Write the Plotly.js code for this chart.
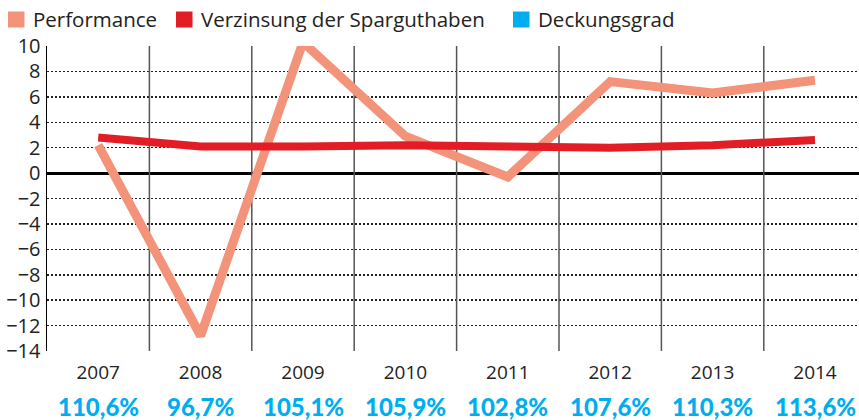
<!DOCTYPE html>
<html>
<head>
<meta charset="utf-8">
<script src="https://cdn.plot.ly/plotly-3.0.1.min.js"></script>
<style>html,body{margin:0;padding:0;background:#fff;}#chart{width:859px;height:420px;}</style>
</head>
<body>
<div id="chart"></div>
<script>
var years = ["2007","2008","2009","2010","2011","2012","2013","2014"];
var performance = [2.2, -12.8, 10.3, 2.9, -0.3, 7.2, 6.3, 7.3];
var verzinsung = [2.8, 2.1, 2.1, 2.2, 2.1, 2.0, 2.2, 2.6];
var deckungsgrad = ["110,6%","96,7%","105,1%","105,9%","102,8%","107,6%","110,3%","113,6%"];
var yTicks = [-14,-12,-10,-8,-6,-4,-2,0,2,4,6,8,10];
var legendNames = ["Performance", "Verzinsung der Sparguthaben", "Deckungsgrad"];

var idx = years.map(function(_, i){ return i; });
var cPerf = "#F3937A", cVerz = "#E31D25", cDeck = "#00AEEF";
var legendColors = [cPerf, cVerz, cDeck];

var W = 859, H = 420, ML = 47, MR = 0, MT = 46, MB = 69;
var PW = W - ML - MR, PH = H - MT - MB;
function px2x(p){ return (p - ML) / PW; }
function px2y(p){ return (H - MB - p) / PH; }

var traces = [
  {x: idx, y: performance, type: "scatter", mode: "lines", name: legendNames[0],
   line: {color: cPerf, width: 9}, cliponaxis: false, showlegend: false, hoverinfo: "y"},
  {x: idx, y: verzinsung, type: "scatter", mode: "lines", name: legendNames[1],
   line: {color: cVerz, width: 8}, cliponaxis: false, showlegend: false, hoverinfo: "y"}
];

var shapes = [];
for (var i = 0; i < years.length - 1; i++) {
  shapes.push({type: "line", xref: "x", yref: "y", x0: i + 0.5, x1: i + 0.5,
    y0: yTicks[0], y1: yTicks[yTicks.length - 1], layer: "between",
    line: {color: "#555", width: 1.5}});
}

var annotations = deckungsgrad.map(function(t, i){
  return {x: i, y: px2y(406), xref: "x", yref: "paper", text: t,
    showarrow: false, xanchor: "center", yanchor: "middle",
    font: {family: "Lato, sans-serif", size: 24, weight: 900, color: cDeck}};
});

// legend (manual, square swatches)
var legX = [8, 176, 513];
legendNames.forEach(function(n, i){
  shapes.push({type: "rect", xref: "paper", yref: "paper",
    x0: px2x(legX[i]), x1: px2x(legX[i] + 16.5), y0: px2y(27.5), y1: px2y(11.5),
    fillcolor: legendColors[i], line: {width: 0}, layer: "above"});
  annotations.push({x: px2x(legX[i] + 23), y: px2y(19), xref: "paper", yref: "paper",
    text: n, showarrow: false, xanchor: "left", yanchor: "middle",
    font: {family: "Open Sans, sans-serif", size: 20.5, color: "#222"}});
});

var layout = {
  width: W, height: H,
  margin: {l: ML, r: MR, t: MT, b: MB},
  paper_bgcolor: "#fff", plot_bgcolor: "#fff",
  font: {family: "Open Sans, sans-serif", color: "#222"},
  showlegend: false,
  xaxis: {range: [-0.5, -0.5 + PW / 102.4], tickvals: idx, ticktext: years,
    showgrid: false, zeroline: false, showline: false, ticks: "",
    ticklabelstandoff: 8, tickfont: {size: 19, color: "#222"}, fixedrange: true},
  yaxis: {range: [yTicks[0], yTicks[yTicks.length - 1]], tickvals: yTicks,
    ticktext: yTicks.map(function(v){ return v < 0 ? "\u2212" + Math.abs(v) : String(v); }),
    showgrid: true, gridcolor: "#222", gridwidth: 1.5, griddash: "1.5px,2.5px",
    zeroline: true, zerolinecolor: "#000", zerolinewidth: 3,
    showline: true, linecolor: "#000", linewidth: 1.5,
    ticks: "", ticklabelstandoff: 1, tickfont: {size: 20, color: "#222"}, fixedrange: true},
  shapes: shapes,
  annotations: annotations
};

Plotly.newPlot("chart", traces, layout, {displayModeBar: false, staticPlot: true});
</script>
</body>
</html>
